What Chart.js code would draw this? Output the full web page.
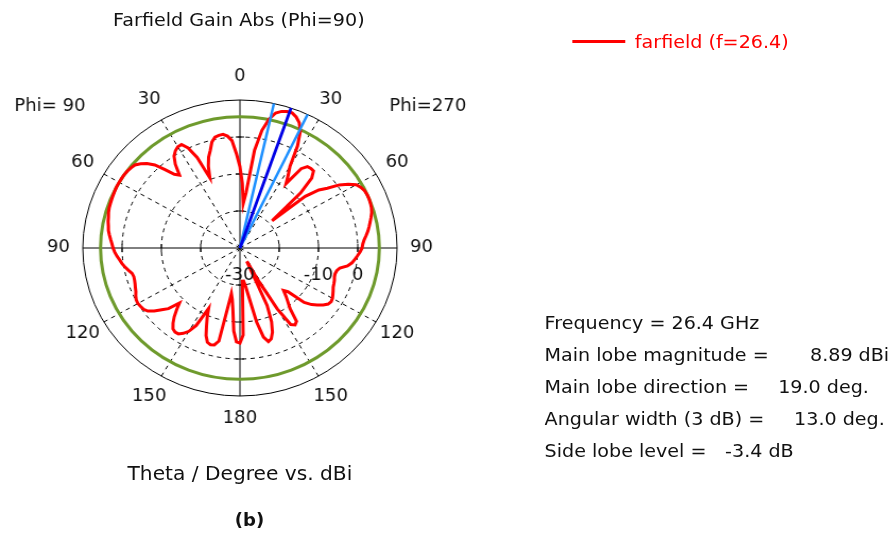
<!DOCTYPE html>
<html lang="en">
<head>
<meta charset="UTF-8">
<title>Farfield Gain Abs (Phi=90)</title>
<script src="https://cdn.jsdelivr.net/npm/chart.js"></script>
<style>
    html, body { margin: 0; padding: 0; background: #fff; }
    body { width: 896px; height: 534px; overflow: hidden; position: relative; }
    /* the reference is slightly stretched sideways, so the whole page is too */
    #page { position: absolute; left: 0; top: 0; width: 844px; height: 534px;
            transform: scaleX(1.0616); transform-origin: 0 0;
            font-family: "DejaVu Sans", sans-serif; color: #111; }
    #chartBox { position: absolute; left: 0; top: 0; width: 844px; height: 534px; }
    .txt { position: absolute; white-space: pre; line-height: 22px; }
    .ctr { text-align: center; width: 400px; }
</style>
</head>
<body>
<div id="page">
    <div id="chartBox"><canvas id="chart"></canvas></div>

    <div class="txt ctr" style="left:25px; top:9px; font-size:18px;">Farfield Gain Abs (Phi=90)</div>
    <div class="txt ctr" style="left:26px; top:462px; font-size:19px;">Theta / Degree vs. dBi</div>
    <div class="txt ctr" style="left:35px; top:509px; font-size:17px; font-weight:bold;">(b)</div>

    <div style="position:absolute; left:539px; top:40px; width:50px; border-top:3px solid #ff0000;"></div>
    <div class="txt" style="left:598px; top:31px; font-size:18px; color:#ff0000;">farfield (f=26.4)</div>

    <div class="txt" style="left:513px; top:312px; font-size:18px;">Frequency = 26.4 GHz</div>
    <div class="txt" style="left:513px; top:344px; font-size:18px;">Main lobe magnitude =</div>
    <div class="txt" style="left:763px; top:344px; font-size:18px;">8.89 dBi</div>
    <div class="txt" style="left:513px; top:376px; font-size:18px;">Main lobe direction =</div>
    <div class="txt" style="left:733px; top:376px; font-size:18px;">19.0 deg.</div>
    <div class="txt" style="left:513px; top:408px; font-size:18px;">Angular width (3 dB) =</div>
    <div class="txt" style="left:748px; top:408px; font-size:18px;">13.0 deg.</div>
    <div class="txt" style="left:513px; top:440px; font-size:18px;">Side lobe level =</div>
    <div class="txt" style="left:683px; top:440px; font-size:18px;">-3.4 dB</div>
</div>

<script>
    // theta, clockwise from the top, every 2 degrees
    const thetaDeg = Array.from({length: 180}, (_, i) => i * 2);

    // farfield gain in dBi at each theta above
    const gainDbi = [
        -8.0, -12.5, -18.0, -15.0, -3.3, 2.3, 5.6, 7.6, 8.4, 8.8,
        8.85, 8.2, 7.1, 5.1, 1.2, -4.5, -6.8, -9.0, -3.5, -2.1,
        -1.9, -2.0, -3.7, -8.5, -19.0, -8.3, -4.5, -2.5, 0.5, 2.5,
        4.2, 4.9, 5.3, 5.45, 5.45, 5.35, 5.2, 4.9, 4.4, 3.9,
        3.4, 2.9, 2.3, 1.7, 1.3, 1.1, 0.6, 0.0, -0.6, -1.2,
        -2.2, -4.0, -4.6, -4.8, -4.7, -4.4, -4.2, -4.0, -3.6, -3.2,
        -2.8, -2.6, -2.9, -3.8, -5.0, -6.2, -8.0, -13.0, -14.0, -12.5,
        -11.0, -9.3, -5.5, -4.9, -5.6, -11.0, -20.0, -26.0, -13.0, -8.5,
        -5.8, -4.2, -3.7, -5.2, -9.5, -16.0, -19.5, -21.0, -21.0, -6.5,
        -4.3, -4.6, -7.5, -13.0, -16.0, -17.5, -4.3, -3.0, -2.8, -3.2,
        -4.8, -7.3, -9.5, -11.8, -6.3, -4.0, -2.8, -2.0, -1.9, -2.3,
        -3.5, -5.0, -6.8, -8.6, -5.5, -4.0, -2.3, -1.0, -0.4, -0.2,
        0.0, -0.1, -0.5, -1.0, -1.3, -1.6, -1.8, -1.9, -1.7, -1.0,
        -0.3, 0.3, 0.8, 1.4, 1.9, 2.3, 2.6, 3.0, 3.4, 3.8,
        4.0, 4.3, 4.5, 4.8, 5.0, 5.1, 5.2, 5.3, 5.4, 5.5,
        5.5, 5.5, 5.5, 5.4, 5.2, 4.9, 4.0, 2.9, 1.2, -1.5,
        -4.0, -5.0, -2.0, 0.0, 1.0, 1.6, 1.7, 0.1, -3.2, -9.5,
        -6.5, -4.2, -2.6, -0.5, 0.6, 0.9, 1.0, 0.4, -0.9, -4.5
    ];

    // angle labels round the plot (theta on both half planes)
    const angleTickDeg = [0, 30, 60, 90, 120, 150, 180, 210, 240, 270, 300, 330];
    const angleTickText = ['0', '30', '60', '90', '120', '150', '180', '150', '120', '90', '60', '30'];
    // radial labels shown along the right axis
    const radialTickDb = [-30, -10, 0];
    const radialMin = -30, radialMax = 10;

    const mainLobeMag = 8.89;
    const mainLobeDir = 19.0;
    const beamWidth3dB = 13.0;
    const sideLobeLevel = -3.4;

    const polarDecor = {
        id: 'polarDecor',
        beforeDatasetsDraw(chart) {
            const r = chart.scales.r, ctx = chart.ctx;
            ctx.save();
            // small ticks where the dashed rings cross the axes
            ctx.strokeStyle = '#000';
            ctx.lineWidth = 1;
            [-20, -10, 0].forEach(v => {
                const d = r.getDistanceFromCenterForValue(v);
                ctx.beginPath();
                ctx.moveTo(r.xCenter + d, r.yCenter - 4); ctx.lineTo(r.xCenter + d, r.yCenter + 4);
                ctx.moveTo(r.xCenter - d, r.yCenter - 4); ctx.lineTo(r.xCenter - d, r.yCenter + 4);
                ctx.moveTo(r.xCenter - 4, r.yCenter + d); ctx.lineTo(r.xCenter + 4, r.yCenter + d);
                ctx.moveTo(r.xCenter - 4, r.yCenter - d); ctx.lineTo(r.xCenter + 4, r.yCenter - d);
                ctx.stroke();
            });
            // side lobe level ring
            ctx.strokeStyle = '#6e9a2c';
            ctx.lineWidth = 3;
            ctx.beginPath();
            ctx.arc(r.xCenter, r.yCenter, r.getDistanceFromCenterForValue(mainLobeMag + sideLobeLevel), 0, Math.PI * 2);
            ctx.stroke();
            ctx.restore();
        },
        afterDatasetsDraw(chart) {
            const r = chart.scales.r, ctx = chart.ctx;
            const step = 360 / thetaDeg.length;
            const outer = r.getDistanceFromCenterForValue(radialMax);
            const beams = [
                [mainLobeDir - beamWidth3dB / 2, '#1e90ff', 2.5],
                [mainLobeDir + beamWidth3dB / 2, '#1e90ff', 2.5],
                [mainLobeDir, '#0000e6', 2.8]
            ];
            ctx.save();
            beams.forEach(([deg, col, w]) => {
                const p = r.getPointPosition(deg / step, outer);
                ctx.strokeStyle = col;
                ctx.lineWidth = w;
                ctx.beginPath();
                ctx.moveTo(r.xCenter, r.yCenter);
                ctx.lineTo(p.x, p.y);
                ctx.stroke();
            });

            ctx.fillStyle = '#111';
            ctx.font = '17px "DejaVu Sans", sans-serif';
            ctx.textAlign = 'center';
            ctx.textBaseline = 'middle';
            angleTickDeg.forEach((deg, i) => {
                const p = r.getPointPosition(deg / step, outer + 23);
                ctx.fillText(angleTickText[i], p.x, p.y);
            });
            radialTickDb.forEach(v => {
                ctx.fillText(String(v), r.xCenter + r.getDistanceFromCenterForValue(v), r.yCenter + 28);
            });
            ctx.fillText('Phi= 90', r.xCenter - 179, r.yCenter - 141);
            ctx.fillText('Phi=270', r.xCenter + 177, r.yCenter - 141);
            ctx.restore();
        }
    };

    const ctx = document.getElementById('chart').getContext('2d');
    window.myChart = new Chart(ctx, {
        type: 'radar',
        data: {
            labels: thetaDeg,
            datasets: [{
                label: 'farfield (f=26.4)',
                data: gainDbi,
                borderColor: '#ff0000',
                borderWidth: 3,
                pointRadius: 0,
                fill: false,
                tension: 0
            }]
        },
        options: {
            responsive: true,
            maintainAspectRatio: false,
            animation: false,
            layout: { padding: { left: 78, top: 100, right: 470, bottom: 138 } },
            plugins: { legend: { display: false }, tooltip: { enabled: false } },
            scales: {
                r: {
                    min: radialMin,
                    max: radialMax,
                    startAngle: 0,
                    ticks: { display: false, stepSize: 10 },
                    pointLabels: { display: false },
                    grid: {
                        circular: true,
                        color: c => c.index === 0 ? 'rgba(0,0,0,0)' : '#000',
                        lineWidth: 1
                    },
                    border: { dash: c => (c.tick && c.tick.value === radialMax) ? [] : [4, 4] },
                    angleLines: {
                        color: c => c.index % 15 === 0 ? '#000' : 'rgba(0,0,0,0)',
                        lineWidth: c => c.index % 15 === 0 ? 1 : 0,
                        borderDash: c => c.index % 45 === 0 ? [] : [4, 4]
                    }
                }
            }
        },
        plugins: [polarDecor]
    });
</script>
</body>
</html>
